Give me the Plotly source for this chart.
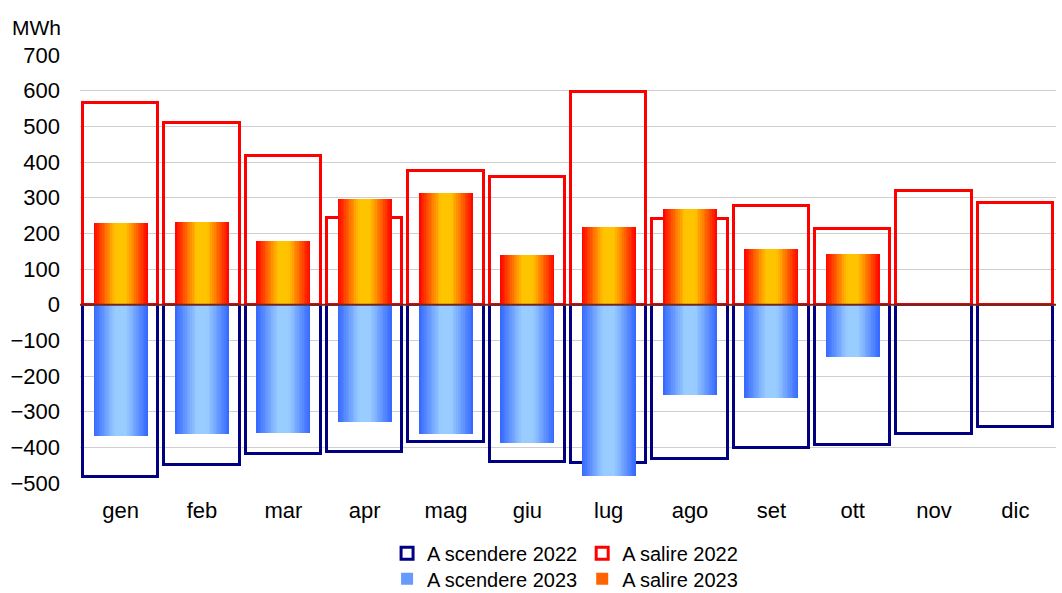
import plotly.graph_objects as go

# Monthly balancing energy, MWh
mesi = ["gen", "feb", "mar", "apr", "mag", "giu", "lug", "ago", "set", "ott", "nov", "dic"]

salire_2022 = [565, 508, 417, 243, 374, 357, 595, 240, 276, 213, 318, 285]
scendere_2022 = [-484, -450, -420, -413, -386, -442, -445, -433, -403, -394, -364, -343]

mesi_2023 = ["gen", "feb", "mar", "apr", "mag", "giu", "lug", "ago", "set", "ott"]
salire_2023 = [228, 233, 178, 295, 312, 138, 217, 267, 156, 142]
scendere_2023 = [-367, -364, -359, -328, -364, -387, -479, -252, -261, -146]

y_ticks = [700, 600, 500, 400, 300, 200, 100, 0, -100, -200, -300, -400, -500]

FONT = "Liberation Sans, Arial, sans-serif"
OUTER_W = 0.93
INNER_W = 0.667
N_LAYERS = 16


def mix(c_edge, c_mid, t):
    """Colour at normalised distance t from the bar centre (0 centre, 1 edge)."""
    s = 0.0 if t < 0.2 else min(1.0, (t - 0.2) / 0.8)
    rgb = [round(m + (e - m) * s) for e, m in zip(c_edge, c_mid)]
    return "rgb({},{},{})".format(*rgb)


fig = go.Figure()

# 2022: outlined boxes
fig.add_trace(go.Bar(
    x=mesi, y=scendere_2022, name="A scendere 2022", width=OUTER_W,
    marker=dict(color="rgba(255,255,255,0)", line=dict(color="#000080", width=3)),
    legend="legend",
))
fig.add_trace(go.Bar(
    x=mesi, y=salire_2022, name="A salire 2022", width=OUTER_W,
    marker=dict(color="rgba(255,255,255,0)", line=dict(color="#FF0000", width=3)),
    legend="legend",
))

# 2023: horizontally shaded bars, built from nested bars of decreasing width
series_2023 = [
    ("A scendere 2023", scendere_2023, (51, 102, 255), (153, 204, 255)),
    ("A salire 2023", salire_2023, (255, 0, 0), (255, 196, 0)),
]
for name, vals, edge, mid in series_2023:
    for k in range(N_LAYERS):
        w = INNER_W * (1 - k / N_LAYERS)
        t = 1 - (k + 0.5) / N_LAYERS
        fig.add_trace(go.Bar(
            x=mesi_2023, y=vals, width=w, name=name,
            marker=dict(color=mix(edge, mid, t), line=dict(width=0)),
            showlegend=(k == N_LAYERS // 2 - 2), legend="legend2",
            legendgroup=name, hoverinfo="skip" if k else None,
        ))

# zero line drawn over the bars
fig.add_shape(type="line", xref="paper", yref="y", x0=0, x1=1, y0=0, y1=0,
              line=dict(color="#6e2626", width=2), layer="above")

fig.add_annotation(text="MWh", xref="paper", yref="paper", x=-0.0715, y=1.032,
                   xanchor="left", yanchor="bottom", showarrow=False,
                   font=dict(family=FONT, size=21, color="#000"))

legend_style = dict(orientation="h", xanchor="center", x=0.497, yanchor="middle",
                    font=dict(family=FONT, size=20, color="#000"),
                    bgcolor="rgba(0,0,0,0)", itemwidth=30, traceorder="normal")

fig.update_layout(
    width=1062, height=593,
    margin=dict(l=80, r=6, t=55, b=110, autoexpand=False),
    paper_bgcolor="white", plot_bgcolor="white",
    barmode="overlay", bargap=0,
    font=dict(family=FONT, size=22, color="#000"),
    legend=dict(y=-0.164, **legend_style),
    legend2=dict(y=-0.224, **legend_style),
    xaxis=dict(categoryorder="array", categoryarray=mesi, showgrid=False,
               showline=False, ticks="", tickfont=dict(size=22),
               ticklabelstandoff=12),
    yaxis=dict(range=[-500, 700], tickvals=y_ticks, showgrid=True,
               gridcolor="#CFCFCF", gridwidth=1, zeroline=False,
               showline=False, ticks="", tickfont=dict(size=22),
               ticklabelstandoff=19),
)

fig.write_html("out.html")
